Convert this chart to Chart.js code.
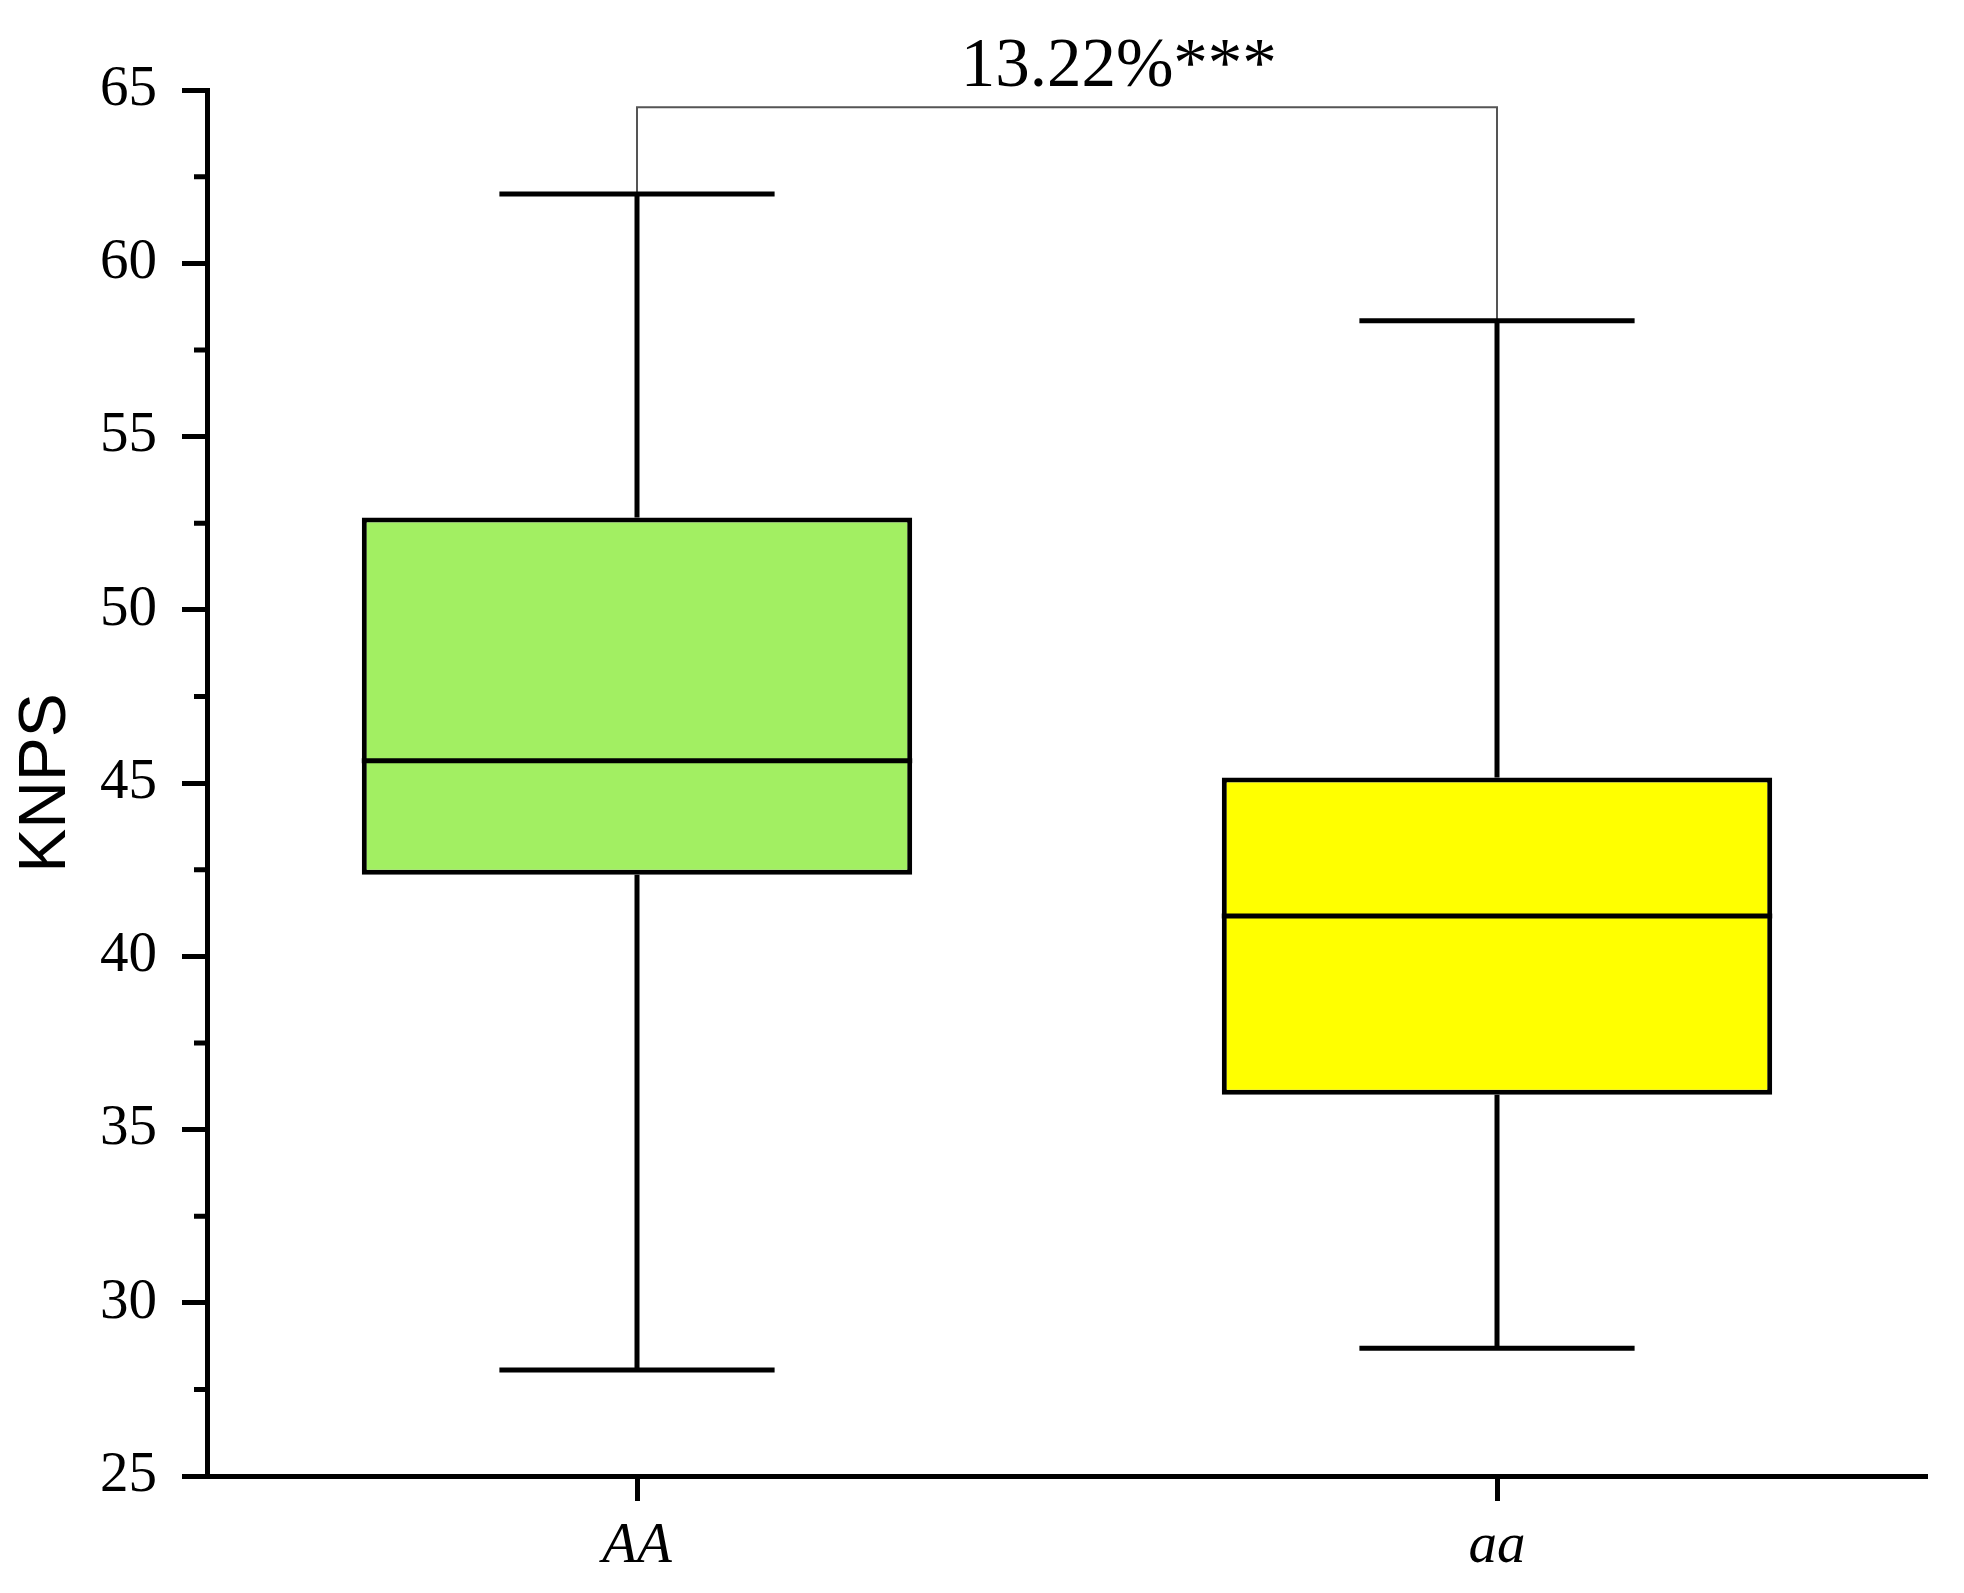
<!DOCTYPE html>
<html>
<head>
<meta charset="utf-8">
<script src="https://cdn.jsdelivr.net/npm/chart.js@4.4.1/dist/chart.umd.min.js"></script>
<style>
  html, body { margin: 0; padding: 0; background: #fff; }
  #wrap { width: 1964px; height: 1593px; }
</style>
</head>
<body>
<div id="wrap"><canvas id="chart" width="1964" height="1593"></canvas></div>
<script>
// box statistics
const groups = ['AA', 'aa'];
const mins = [28.06, 28.69];
const q1s = [42.35, 36.0];
const medians = [45.64, 41.16];
const q3s = [52.66, 45.16];
const maxs = [62.0, 58.34];
const fills = ['#a2ef62', '#ffff00'];

const minorTicks = [27.5, 32.5, 37.5, 42.5, 47.5, 52.5, 57.5, 62.5];
const bracketLevel = 64.5;
const diffLabel = '13.22%';
const sigLabel = '***';

const SERIF = '"Liberation Serif", "Times New Roman", serif';
const INK = '#000';
const LW = 5; // stroke weight of axes, boxes and whiskers

// whiskers, medians, minor ticks and the significance bracket
const boxParts = {
  id: 'boxParts',
  afterDatasetsDraw(chart) {
    const { ctx, scales: { x, y } } = chart;
    const bars = chart.getDatasetMeta(0).data;
    ctx.save();
    ctx.lineCap = 'butt';

    // bracket: thin grey, from each whisker top up to the bracket level
    const xa = x.getPixelForValue(0);
    const xb = x.getPixelForValue(1);
    const yb = y.getPixelForValue(bracketLevel);
    ctx.strokeStyle = '#555';
    ctx.lineWidth = 2;
    ctx.beginPath();
    ctx.moveTo(xa, y.getPixelForValue(maxs[0]));
    ctx.lineTo(xa, yb);
    ctx.lineTo(xb, yb);
    ctx.lineTo(xb, y.getPixelForValue(maxs[1]));
    ctx.stroke();

    ctx.strokeStyle = INK;
    ctx.lineWidth = LW;
    bars.forEach((bar, i) => {
      const cx = bar.x;
      const half = bar.width / 2;
      const cap = bar.width / 4;
      const yMin = y.getPixelForValue(mins[i]);
      const yMax = y.getPixelForValue(maxs[i]);
      ctx.beginPath();
      // upper whisker + cap
      ctx.moveTo(cx, y.getPixelForValue(q3s[i]));
      ctx.lineTo(cx, yMax);
      ctx.moveTo(cx - cap, yMax);
      ctx.lineTo(cx + cap, yMax);
      // lower whisker + cap
      ctx.moveTo(cx, y.getPixelForValue(q1s[i]));
      ctx.lineTo(cx, yMin);
      ctx.moveTo(cx - cap, yMin);
      ctx.lineTo(cx + cap, yMin);
      // median
      const ym = y.getPixelForValue(medians[i]);
      ctx.moveTo(cx - half, ym);
      ctx.lineTo(cx + half, ym);
      ctx.stroke();
    });

    // minor ticks on the y axis (outward)
    ctx.beginPath();
    minorTicks.forEach((v) => {
      const py = y.getPixelForValue(v);
      ctx.moveTo(y.right, py);
      ctx.lineTo(y.right - 13, py);
    });
    ctx.stroke();

    // "13.22%" centred on the bracket, stars appended
    ctx.font = `69px ${SERIF}`;
    ctx.fillStyle = INK;
    ctx.textAlign = 'left';
    ctx.textBaseline = 'alphabetic';
    const w = ctx.measureText(diffLabel).width;
    ctx.fillText(diffLabel + sigLabel, (xa + xb) / 2 - w / 2, yb - 21);
    ctx.restore();
  },
};

new Chart(document.getElementById('chart'), {
  type: 'bar',
  data: {
    labels: groups,
    datasets: [{
      data: groups.map((g, i) => [q1s[i], q3s[i]]),
      backgroundColor: fills,
      borderColor: INK,
      borderWidth: LW,
      borderSkipped: false,
      barPercentage: 0.64,
      categoryPercentage: 1,
    }],
  },
  options: {
    responsive: false,
    animation: false,
    devicePixelRatio: 1,
    layout: { padding: { top: 90, right: 37, left: 0, bottom: 0 } },
    plugins: { legend: { display: false }, tooltip: { enabled: false } },
    scales: {
      x: {
        afterFit: (s) => { s.height = 117; },
        grid: { drawOnChartArea: false, offset: false, tickLength: 25, tickColor: INK, tickWidth: LW },
        border: { display: true, color: INK, width: LW },
        ticks: { color: INK, padding: 12, font: { family: SERIF, size: 57, style: 'italic' } },
      },
      y: {
        min: 25,
        max: 65,
        afterFit: (s) => { s.width = 207; },
        grid: { drawOnChartArea: false, tickLength: 25, tickColor: INK, tickWidth: LW },
        border: { display: true, color: INK, width: LW },
        ticks: { stepSize: 5, color: INK, padding: 25, font: { family: SERIF, size: 57 } },
        title: {
          display: true,
          text: 'KNPS',
          color: INK,
          padding: { top: 7, bottom: 0 },
          font: { family: '"Liberation Sans", Arial, sans-serif', size: 66 },
        },
      },
    },
  },
  plugins: [boxParts],
});
</script>
</body>
</html>
